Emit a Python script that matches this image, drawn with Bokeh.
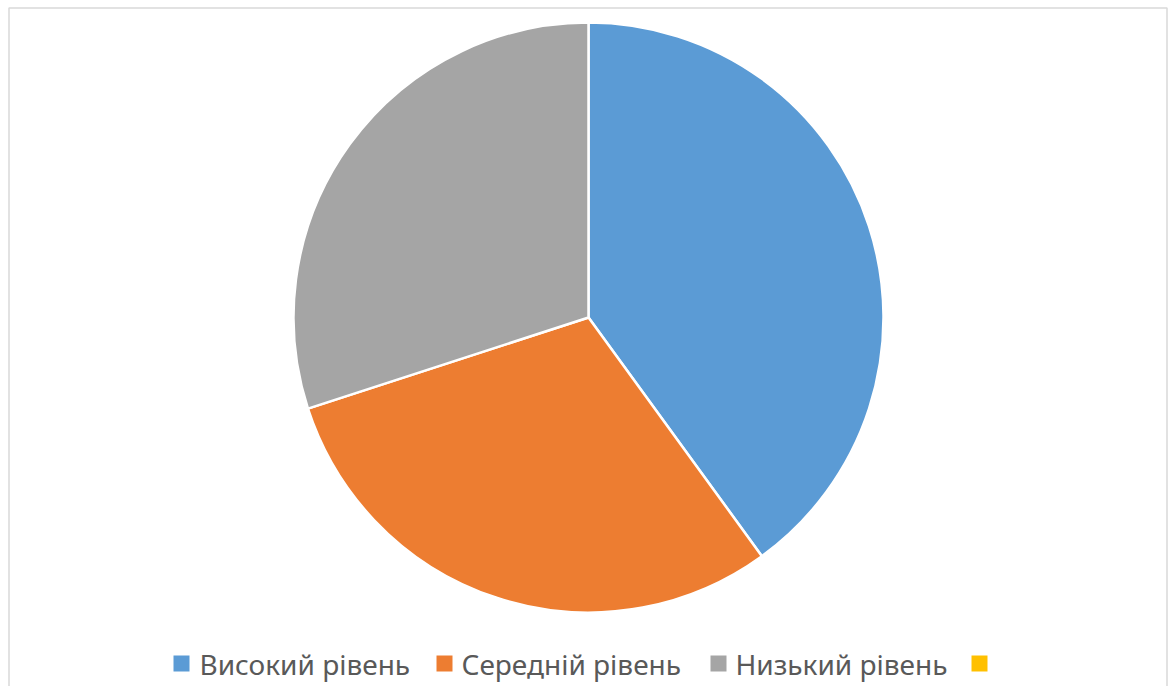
import math
from bokeh.plotting import figure
from bokeh.models import Range1d, ColumnDataSource
from bokeh.core.properties import value
from bokeh.embed import file_html
from bokeh.resources import INLINE

categories = ["Високий рівень", "Середній рівень", "Низький рівень", ""]
values = [40, 30, 30, 0]
colors = ["#5B9BD5", "#ED7D31", "#A5A5A5", "#FFC000"]

W, H = 1168, 686
p = figure(width=W, height=H, output_backend="svg", toolbar_location=None,
           x_range=Range1d(0, W), y_range=Range1d(0, H), min_border=0)
p.axis.visible = False
p.grid.visible = False
p.outline_line_color = None
p.background_fill_color = "white"

# chart border
p.quad(left=[8.5], right=[1166.5], bottom=[-20], top=[H - 7.5],
       fill_color=None, line_color="#D9D9D9", line_width=1.5)

cx, cy, r = 588, H - 317, 295
total = sum(values)
starts, ends, cols = [], [], []
a = math.pi / 2
for v, c in zip(values, colors):
    b = a - 2 * math.pi * v / total
    if v > 0:
        starts.append(a)
        ends.append(b)
        cols.append(c)
    a = b
src = ColumnDataSource(dict(start=starts, end=ends, color=cols))
p.wedge(x=cx, y=cy, radius=r, start_angle="end", end_angle="start",
        fill_color="color", line_color="white", line_width=2.5, source=src)

# legend
sq_x = [173, 436, 710, 971]
txt_x = [199, 461, 735, 997]
ly = H - 663
for i, c in enumerate(categories):
    p.rect(x=[sq_x[i] + 8], y=[ly], width=16, height=16, fill_color=colors[i], line_color=None)
    if c:
        p.text(x=[txt_x[i]], y=[ly], text=[c], text_font=value("Noto Sans"),
               text_font_size="28px", text_color="#595959",
               text_baseline="middle", text_align="left")

open("out.html", "w").write(file_html(p, INLINE))
